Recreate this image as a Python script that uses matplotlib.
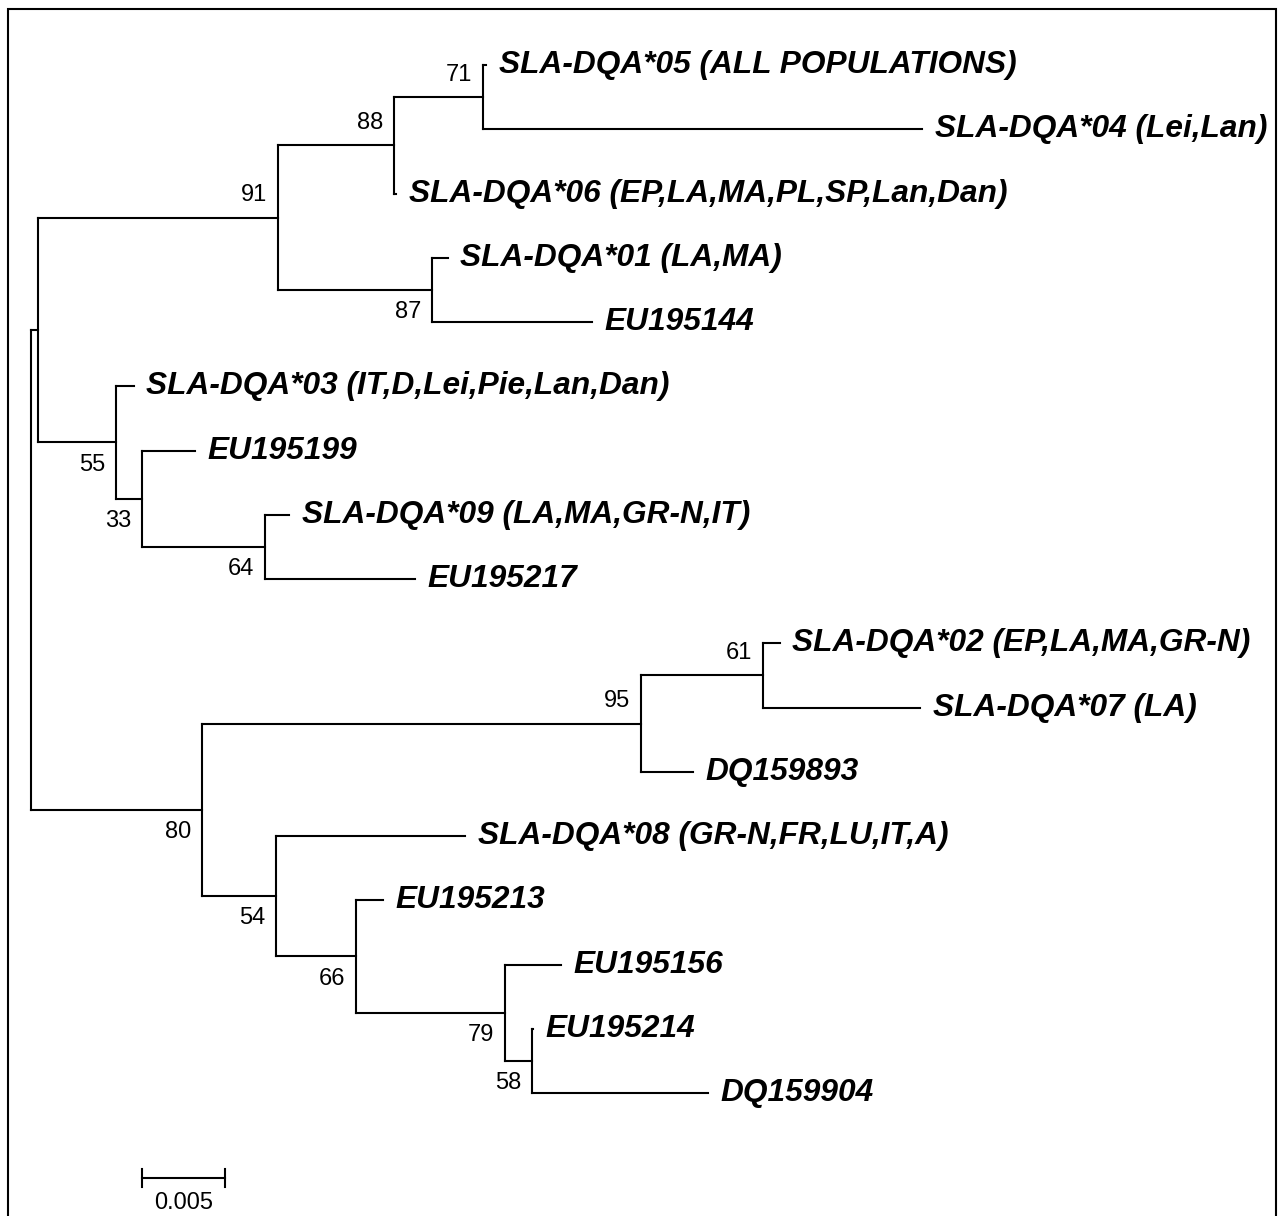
import matplotlib.pyplot as plt
from matplotlib.patches import Rectangle

# tree in preorder, children listed top to bottom
node_names = ["root", "A", "C", "E", "G",
              "SLA-DQA*05 (ALL POPULATIONS)", "SLA-DQA*04 (Lei,Lan)",
              "SLA-DQA*06 (EP,LA,MA,PL,SP,Lan,Dan)",
              "F", "SLA-DQA*01 (LA,MA)", "EU195144",
              "D", "SLA-DQA*03 (IT,D,Lei,Pie,Lan,Dan)",
              "H", "EU195199", "I", "SLA-DQA*09 (LA,MA,GR-N,IT)", "EU195217",
              "B", "J", "L", "SLA-DQA*02 (EP,LA,MA,GR-N)", "SLA-DQA*07 (LA)",
              "DQ159893", "K", "SLA-DQA*08 (GR-N,FR,LU,IT,A)",
              "M", "EU195213", "N", "EU195156", "O", "EU195214", "DQ159904"]
parents = [None, "root", "A", "C", "E",
           "G", "G",
           "E",
           "C", "F", "F",
           "A", "D",
           "D", "H", "H", "I", "I",
           "root", "B", "J", "L", "L",
           "J", "B", "K",
           "K", "M", "M", "N", "N", "O", "O"]
branch_lengths = [0.0, 0.00042, 0.01446, 0.00699, 0.00536,
                  0.00018, 0.02645,
                  0.00012,
                  0.00928, 0.00096, 0.00964,
                  0.0047, 0.00108,
                  0.00157, 0.00319, 0.00741, 0.00145, 0.00904,
                  0.0103, 0.02645, 0.00735, 0.00102, 0.00946,
                  0.00313, 0.00446, 0.01139,
                  0.00482, 0.00163, 0.00898, 0.00337, 0.00163, 0.00006, 0.0106]

# bootstrap support and whether it sits above or below the branch
bootstrap = {"C": 91, "E": 88, "G": 71, "F": 87, "D": 55, "H": 33, "I": 64,
             "B": 80, "J": 95, "L": 61, "K": 54, "M": 66, "N": 79, "O": 58}
boot_above = {"C": True, "E": True, "G": True, "F": False, "D": False,
              "H": False, "I": False, "B": False, "J": True, "L": True,
              "K": False, "M": False, "N": False, "O": False}

scale_length = 0.005
scale_label = "0.005"

# --- layout
children = {n: [] for n in node_names}
for n, p in zip(node_names, parents):
    if p is not None:
        children[p].append(n)

xpos = {}
for n, p, bl in zip(node_names, parents, branch_lengths):
    xpos[n] = 0.0 if p is None else xpos[p] + bl

leaves = [n for n in node_names if not children[n]]
ypos = {n: i for i, n in enumerate(leaves)}


def get_y(n):
    if n not in ypos:
        ys = [get_y(c) for c in children[n]]
        ypos[n] = (min(ys) + max(ys)) / 2
    return ypos[n]


get_y("root")

fig = plt.figure(figsize=(12.82, 12.16), dpi=100)
ax = fig.add_axes([0, 0, 1, 1])
ax.set_xlim(-0.001867, 0.075361)
ax.set_ylim(17.914, -1.0117)
ax.axis("off")

lw = 1.5
for n, p in zip(node_names, parents):
    if p is None:
        continue
    ax.plot([xpos[p], xpos[n]], [ypos[n], ypos[n]], color="black", lw=lw,
            solid_capstyle="projecting")
for n in node_names:
    if children[n]:
        ys = [ypos[c] for c in children[n]]
        ax.plot([xpos[n], xpos[n]], [min(ys), max(ys)], color="black", lw=lw,
                solid_capstyle="projecting")

for n in leaves:
    ax.annotate(n, (xpos[n], ypos[n]), xytext=(9, 0), textcoords="offset points",
                ha="left", va="center", fontsize=22.8, fontweight="bold",
                fontstyle="italic", family="Liberation Sans")

for n, val in bootstrap.items():
    dy = 16 if boot_above[n] else -16
    ax.annotate(str(val), (xpos[n], ypos[n]), xytext=(-8, dy),
                textcoords="offset points", ha="right", va="center",
                fontsize=17, family="Liberation Sans")

# scale bar
sx0 = 0.00669
sy = 17.32
ax.plot([sx0, sx0 + scale_length], [sy, sy], color="black", lw=lw)
for sx in (sx0, sx0 + scale_length):
    ax.plot([sx, sx], [sy - 0.14, sy + 0.14], color="black", lw=lw)
ax.annotate(scale_label, (sx0 + scale_length / 2, sy), xytext=(0, -18),
            textcoords="offset points", ha="center", va="center",
            fontsize=17, family="Liberation Sans")

fig.patches.append(Rectangle((8 / 1282, -0.01), 1268 / 1282, 1 - 9 / 1216 + 0.01,
                             transform=fig.transFigure, fill=False,
                             edgecolor="black", lw=1.5))

fig.savefig("out.png", dpi=100)
